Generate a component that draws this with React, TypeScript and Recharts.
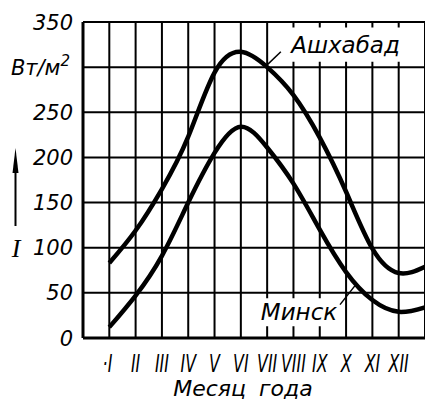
import { CartesianGrid, Line, LineChart, ReferenceArea, ReferenceLine, XAxis, YAxis } from "recharts";

// Солнечная радиация по месяцам, Вт/м²
const monthNames = ["I", "II", "III", "IV", "V", "VI", "VII", "VIII", "IX", "X", "XI", "XII"];
const monthPos = [1, 2, 3, 4, 5, 6, 7, 8, 9, 10, 11, 12, 13];
const ashkhabad = [83, 119, 165, 223, 294, 317, 300, 269, 222, 162, 99, 72, 79];
const minsk = [12, 47, 91, 150, 205, 234, 211, 171, 120, 73, 42, 29, 34];
const xTicks = [0, 1, 2, 3, 4, 5, 6, 7, 8, 9, 10, 11, 12, 13];
const yTicks = [0, 50, 100, 150, 200, 250, 300, 350];
const unitTick = 300; // на месте "300" стоит единица измерения

const data = monthPos.map((m, i) => ({ m, ashkhabad: ashkhabad[i], minsk: minsk[i] }));

const numFont = "'DejaVu Sans', sans-serif";

function YTick({ y, payload }: any) {
  if (payload.value === unitTick) {
    return (
      <text x={70} y={y + 8} textAnchor="end" fontFamily={numFont} fontStyle="italic" fontSize={21} fill="#000">
        Вт/м<tspan dy={-9} fontSize={15}>2</tspan>
      </text>
    );
  }
  return (
    <text x={73} y={y} dy="0.36em" textAnchor="end" fontFamily={numFont} fontStyle="italic" fontSize={21} fill="#000">
      {payload.value}
    </text>
  );
}

// римские цифры в чертёжном шрифте узкие — сжимаем по горизонтали
function XTick({ x, y, payload }: any) {
  const v = payload.value;
  if (v < 1 || v > 12) return null;
  const name = monthNames[v - 1];
  const first = v === 1;
  return (
    <g transform={`translate(${first ? x + 3 : x},${y + 26}) scale(0.66,1)`}>
      <text x={0} y={0} textAnchor={first ? "end" : "middle"} fontFamily={numFont} fontStyle="italic" fontSize={24} fill="#000">
        {first ? "·" + name : name}
      </text>
    </g>
  );
}

const cityLabel = (text: string, dx: number, base: number) => (props: any) => {
  const vb = props.viewBox;
  return (
    <text
      x={vb.x + vb.width / 2 + dx}
      y={vb.y + base}
      textAnchor="middle"
      fontFamily={numFont}
      fontStyle="italic"
      fontSize={23}
      fill="#000"
    >
      {text}
    </text>
  );
};

export default function App() {
  return (
    <div style={{ position: "absolute", left: 0, top: 0, width: 425, height: 401, background: "#fff" }}>
      <LineChart width={425} height={401} data={data} margin={{ top: 22, right: 0, left: 0, bottom: 0 }}>
        <CartesianGrid stroke="#000" strokeWidth={2} />
        <XAxis
          dataKey="m"
          type="number"
          domain={[0, 13]}
          ticks={xTicks}
          height={63}
          tickLine={false}
          axisLine={{ stroke: "#000", strokeWidth: 3 }}
          tick={<XTick />}
          interval={0}
        />
        <YAxis
          type="number"
          domain={[0, 350]}
          ticks={yTicks}
          width={83}
          tickLine={false}
          axisLine={{ stroke: "#000", strokeWidth: 3 }}
          tick={<YTick />}
          interval={0}
        />
        <ReferenceArea x1={7.68} x2={12.43} y1={306} y2={344} fill="#fff" fillOpacity={1} stroke="none" label={cityLabel("Ашхабад", -2, 26)} />
        <ReferenceArea x1={6.65} x2={9.77} y1={13} y2={44} fill="#fff" fillOpacity={1} stroke="none" label={cityLabel("Минск", 0, 22)} />
        <ReferenceLine segment={[{ x: 6.98, y: 302 }, { x: 7.52, y: 317 }]} stroke="#000" strokeWidth={1.5} />
        <ReferenceLine segment={[{ x: 9.77, y: 37 }, { x: 10.34, y: 58 }]} stroke="#000" strokeWidth={1.5} />
        <Line type="natural" dataKey="ashkhabad" stroke="#000" strokeWidth={4.5} dot={false} isAnimationActive={false} />
        <Line type="natural" dataKey="minsk" stroke="#000" strokeWidth={4.5} dot={false} isAnimationActive={false} />
      </LineChart>
      <svg width={425} height={401} style={{ position: "absolute", left: 0, top: 0, pointerEvents: "none" }}>
        <line x1={15.5} y1={226} x2={15.5} y2={165} stroke="#000" strokeWidth={2} />
        <polygon points="15.5,148 12.5,173 18.5,173" fill="#000" />
        <text x={16} y={257} textAnchor="middle" fontFamily="'Liberation Serif', serif" fontStyle="italic" fontSize={26} fill="#000">
          I
        </text>
        <text x={243} y={396} textAnchor="middle" fontFamily={numFont} fontStyle="italic" fontSize={22} fill="#000" style={{ wordSpacing: 6 }}>
          Месяц года
        </text>
      </svg>
    </div>
  );
}
